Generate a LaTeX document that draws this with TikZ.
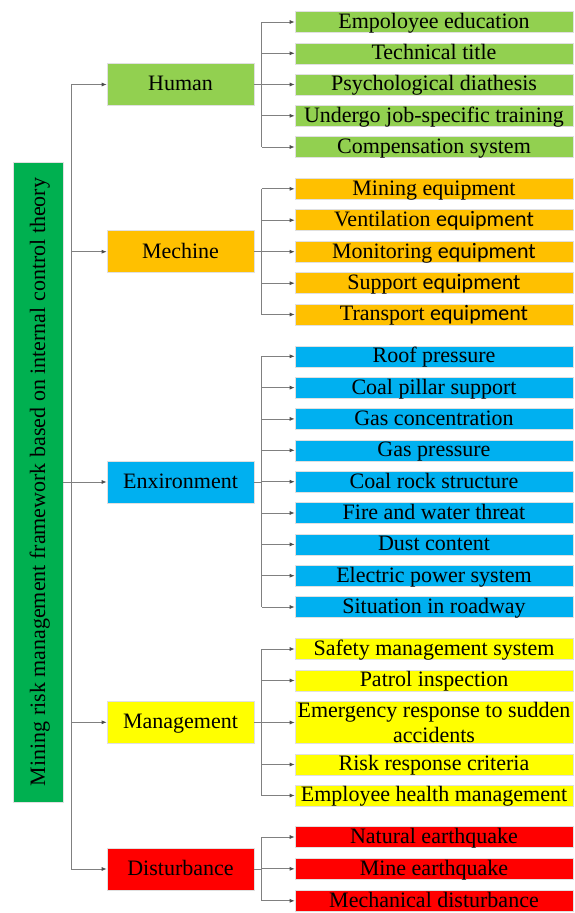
\documentclass[tikz,border=0pt]{standalone}
\usepackage{fontspec}
\setmainfont{Liberation Serif}
\newfontfamily\calfont{Carlito}
\usetikzlibrary{arrows.meta}
\definecolor{cRoot}{HTML}{00B050}
\definecolor{cHum}{HTML}{92D050}
\definecolor{cMec}{HTML}{FFC000}
\definecolor{cEnv}{HTML}{00B0F0}
\definecolor{cMan}{HTML}{FFFF00}
\definecolor{cDis}{HTML}{FF0000}
\begin{document}
\begin{tikzpicture}[x=1pt,y=-1pt,
  boxbase/.style={draw=black!12, line width=0.6pt, inner sep=0pt, text=black, font=\fontsize{22}{25}\selectfont},
  box/.style={boxbase, text height=16pt, text depth=3.2pt},
  lvl/.style={box, minimum width=147pt, minimum height=42pt},
  leaf/.style={box, minimum width=278pt, minimum height=21pt},
  conn/.style={draw=black!50, line width=0.8pt},
  arr/.style={conn, -{Latex[length=5pt,width=4pt,color=black!70]}}
]
\useasboundingbox (0,0) rectangle (574,913);

% root
\node[boxbase, fill=cRoot, rotate=90, minimum width=640pt, minimum height=50pt,
      text height=16pt, text depth=2pt] (root) at (38,482)
  {Mining risk management framework based on internal control theory};

% level 1
\node[lvl, fill=cHum] (hum) at (180.5,84.5) {Human};
\node[lvl, fill=cMec] (mec) at (180.5,251.7) {Mechine};
\node[lvl, fill=cEnv] (env) at (180.5,482) {Enxironment};
\node[lvl, fill=cMan] (man) at (180.5,722.3) {Management};
\node[lvl, fill=cDis] (dis) at (180.5,869) {Disturbance};

% trunk
\coordinate (tk) at (71,0);
\draw[conn] (tk |- hum.west) -- (tk |- dis.west);
\draw[arr] (tk |- hum.west) -- (hum.west);
\draw[arr] (tk |- mec.west) -- (mec.west);
\draw[arr] (root.south) -- (env.west);
\draw[arr] (tk |- man.west) -- (man.west);
\draw[arr] (tk |- dis.west) -- (dis.west);

% leaves: human
\node[leaf, fill=cHum] (h1) at (434,22) {Empoloyee education};
\node[leaf, fill=cHum] (h2) at (434,53.3) {Technical title};
\node[leaf, fill=cHum] (h3) at (434,84.5) {Psychological diathesis};
\node[leaf, fill=cHum] (h4) at (434,115.8) {Undergo job-specific training};
\node[leaf, fill=cHum] (h5) at (434,147) {Compensation system};
% mechine
\node[leaf, fill=cMec] (m1) at (434,188.8) {Mining equipment};
\node[leaf, fill=cMec] (m2) at (434,220.2) {Ventilation {\calfont equipment}};
\node[leaf, fill=cMec] (m3) at (434,251.7) {Monitoring {\calfont equipment}};
\node[leaf, fill=cMec] (m4) at (434,283.2) {Support {\calfont equipment}};
\node[leaf, fill=cMec] (m5) at (434,314.5) {Transport {\calfont equipment}};
% environment
\node[leaf, fill=cEnv] (e1) at (434,356.3) {Roof pressure};
\node[leaf, fill=cEnv] (e2) at (434,387.6) {Coal pillar support};
\node[leaf, fill=cEnv] (e3) at (434,418.9) {Gas concentration};
\node[leaf, fill=cEnv] (e4) at (434,450.3) {Gas pressure};
\node[leaf, fill=cEnv] (e5) at (434,481.7) {Coal rock structure};
\node[leaf, fill=cEnv] (e6) at (434,513) {Fire and water threat};
\node[leaf, fill=cEnv] (e7) at (434,544.4) {Dust content};
\node[leaf, fill=cEnv] (e8) at (434,575.7) {Electric power system};
\node[leaf, fill=cEnv] (e9) at (434,607) {Situation in roadway};
% management
\node[leaf, fill=cMan] (g1) at (434,649) {Safety management system};
\node[leaf, fill=cMan] (g2) at (434,680.5) {Patrol inspection};
\node[boxbase, fill=cMan, minimum width=278pt, minimum height=42pt, align=center] (g3) at (434,722.5)
  {Emergency response to sudden\\accidents};
\node[leaf, fill=cMan] (g4) at (434,764.5) {Risk response criteria};
\node[leaf, fill=cMan] (g5) at (434,795.5) {Employee health management};
% disturbance
\node[leaf, fill=cDis] (d1) at (434,837) {Natural earthquake};
\node[leaf, fill=cDis] (d2) at (434,868.8) {Mine earthquake};
\node[leaf, fill=cDis] (d3) at (434,900.8) {Mechanical disturbance};

% branches
\coordinate (bx) at (261.7,0);
\foreach \p/\first/\last/\list in {hum/h1/h5/{h1,h2,h3,h4,h5},
    mec/m1/m5/{m1,m2,m3,m4,m5},
    env/e1/e9/{e1,e2,e3,e4,e5,e6,e7,e8,e9},
    man/g1/g5/{g1,g2,g3,g4,g5},
    dis/d1/d3/{d1,d2,d3}}{
  \draw[conn] (\p.east) -- (bx |- \p.east);
  \draw[conn] (bx |- \first.west) -- (bx |- \last.west);
  \foreach \c in \list { \draw[arr] (bx |- \c.west) -- (\c.west); }
}
\end{tikzpicture}
\end{document}
